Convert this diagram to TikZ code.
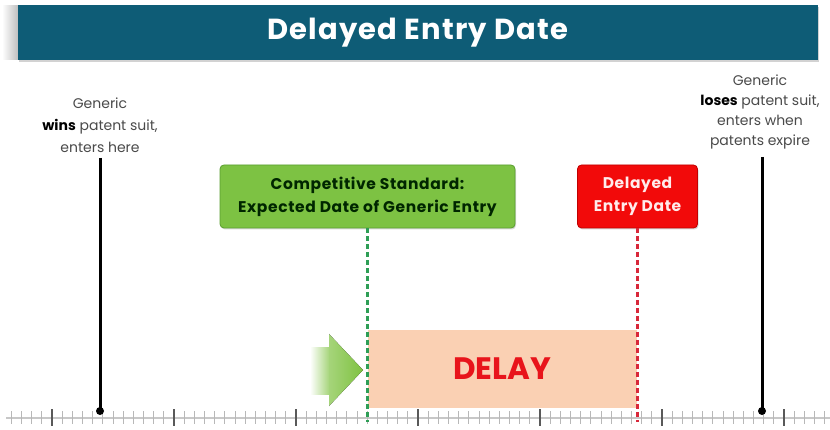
\documentclass[tikz,border=0pt]{standalone}
\usepackage{fontspec}
\setmainfont{Poppins}
\usetikzlibrary{shadows,positioning}

\definecolor{bannerteal}{HTML}{0E5C76}
\definecolor{stdgreen}{HTML}{7DC243}
\definecolor{stdgreendark}{HTML}{5A9E30}
\definecolor{dashgreen}{HTML}{2E9E56}
\definecolor{delayred}{HTML}{F20A0A}
\definecolor{delayreddark}{HTML}{C00000}
\definecolor{dashred}{HTML}{D8283A}
\definecolor{bandpeach}{HTML}{FAD0B3}
\definecolor{delaytext}{HTML}{E8141B}
\definecolor{arrowgreen}{HTML}{7FC241}
\definecolor{labelgray}{HTML}{4A4A4A}

\begin{document}
\begin{tikzpicture}[x=1pt, y=-1pt,
    labeltext/.style={align=center, text=labelgray, inner sep=0pt},
    datebox/.style={rounded corners=4pt, align=center, inner sep=0pt,
      font=\fontsize{15.5}{23}\selectfont\bfseries\addfontfeatures{LetterSpace=4},
      drop shadow={shadow xshift=1pt, shadow yshift=-1.5pt, opacity=.3}},
    suitline/.style={line width=3pt, black},
    dateline/.style={line width=2.5pt, dash pattern=on 5pt off 3pt}]

  % page and banner
  \useasboundingbox[fill=white] (0,0) rectangle (830,430);
  \fill[left color=white, right color=black!25] (2,6) rectangle (18,60);
  \node[fill=bannerteal, minimum width=800pt, minimum height=55pt, inner sep=0pt,
    text=white, font=\fontsize{29}{30}\selectfont\bfseries\addfontfeatures{LetterSpace=4},
    drop shadow={shadow xshift=1pt, shadow yshift=-2pt, opacity=.35}]
    (title) at (418,33) {Delayed Entry Date};

  % time axis
  \draw[line width=2pt, black!22] (6,418) -- (830,418);
  \foreach \k in {-4,...,76}
    \draw[line width=.8pt, black!28] (52+\k*10.1667,411) -- (52+\k*10.1667,424);
  \foreach \k in {0,...,6}
    \draw[line width=2.4pt, black!65] (52+\k*122,409) -- (52+\k*122,426);

  \coordinate (winpt) at (100,411);
  \coordinate (losept) at (762,411);
  \coordinate (stdpt) at (367.5,422);
  \coordinate (delpt) at (637.5,422);

  % outcome labels
  \node[labeltext, font=\fontsize{14}{22}\selectfont] (winlabel) at (100,125)
    {Generic\\{\bfseries\color{black}wins} patent suit,\\enters here};
  \node[labeltext, font=\fontsize{14}{20}\selectfont] (loselabel) at (760,112)
    {Generic\\{\bfseries\color{black}loses} patent suit,\\enters when\\patents expire};
  \draw[suitline] (winlabel.south |- 0,158) -- (winpt);
  \fill (winpt) circle (4);
  \draw[suitline] (losept |- 0,157) -- (losept);
  \fill (losept) circle (4);

  % date boxes
  \node[datebox, fill=stdgreen, draw=stdgreendark, line width=.8pt, text=black!85!green,
    minimum width=295pt, minimum height=63pt] (stdbox) at (367.5,196.5)
    {Competitive Standard:\\Expected Date of Generic Entry};
  \node[datebox, fill=delayred, draw=delayreddark, line width=.8pt, text=white!92!red,
    minimum width=120pt, minimum height=63pt] (delaybox) at (637.5,196.5)
    {Delayed\\Entry Date};

  % delay band
  \node[fill=bandpeach, minimum width=269pt, minimum height=78pt, inner sep=0pt,
    text=delaytext, font=\fontsize{31}{33}\selectfont\bfseries]
    (delayband) at (502,369) {DELAY};
  \draw[dateline, dashgreen] (stdbox.south) -- (stdpt);
  \draw[dateline, dashred] (delaybox.south) -- (delpt);

  % shift arrow
  \fill[left color=white, right color=arrowgreen!70] (310,347) rectangle (329.5,394);
  \fill[left color=arrowgreen!70, right color=arrowgreen]
    (329,334) -- (363,370) -- (329,406) -- cycle;
\end{tikzpicture}
\end{document}
